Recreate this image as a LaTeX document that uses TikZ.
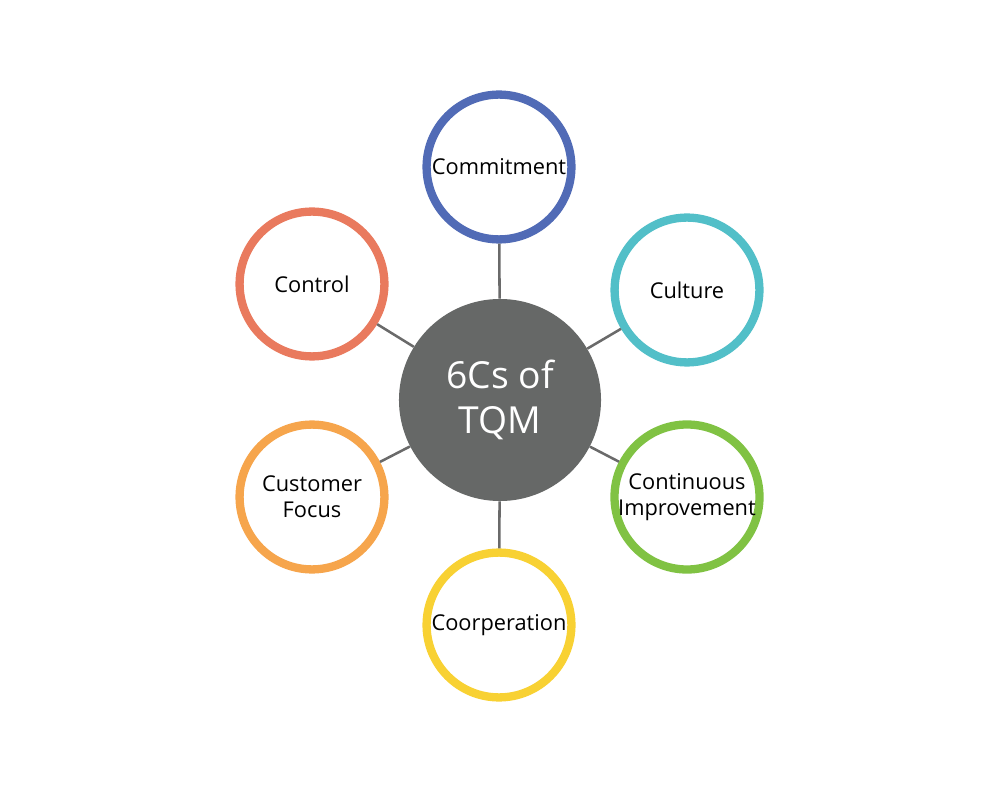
\documentclass[tikz,border=0pt]{standalone}
\usepackage{fontspec}
\setmainfont{Open Sans}

\definecolor{hubgray}{HTML}{666867}
\definecolor{linkgray}{HTML}{6A6A6A}
\definecolor{cblue}{HTML}{516BB6}
\definecolor{cteal}{HTML}{52BFC8}
\definecolor{cgreen}{HTML}{80C243}
\definecolor{cyellow}{HTML}{F8D133}
\definecolor{corange}{HTML}{F6A54C}
\definecolor{cred}{HTML}{E97A5E}

\tikzstyle{hub}=[circle, fill=hubgray, text=white, minimum size=5.05cm,
                 inner sep=0pt, align=center,
                 font=\fontsize{26.5}{32}\selectfont]
\tikzstyle{ring}=[circle, draw, fill=white, line width=5.9pt,
                  minimum size=3.62cm, inner sep=0pt, align=center,
                  font=\fontsize{15.5}{18.5}\selectfont]
\tikzstyle{link}=[draw=linkgray, line width=1.8pt]

\begin{document}
\begin{tikzpicture}[x=0.025cm, y=-0.025cm]
    \useasboundingbox (0,0) rectangle (1000,800);
    % centre and the six Cs round it
    \node[hub] (tqm) at (500,400) {6Cs of\\TQM};
    \node[ring, draw=cblue]   (commit)  at (499,167) {Commitment};
    \node[ring, draw=cteal]   (culture) at (687,290) {Culture};
    \node[ring, draw=cgreen]  (improve) at (687,497) {Continuous\\Improvement};
    \node[ring, draw=cyellow] (coop)    at (499,625) {Coorperation};
    \node[ring, draw=corange] (focus)   at (312,497) {Customer\\Focus};
    \node[ring, draw=cred]    (control) at (312,284) {Control};
    % spokes
    \foreach \n in {commit,culture,improve,coop,focus,control}
        \path[link] (tqm) -- (\n);
\end{tikzpicture}
\end{document}
